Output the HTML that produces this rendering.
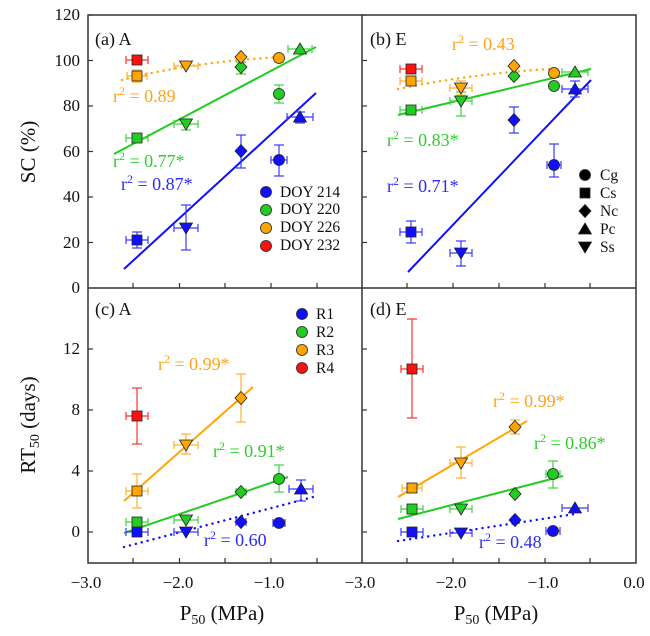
<!DOCTYPE html>
<html><head><meta charset="utf-8"><style>
html,body{margin:0;padding:0;background:#fff;}
svg, svg text{font-family:"Liberation Serif","DejaVu Serif",serif;}
</style></head><body>
<svg id="s" width="650" height="636" viewBox="0 0 650 636" xmlns="http://www.w3.org/2000/svg" font-family="Liberation Serif, DejaVu Serif, serif" style="display:block">
<rect width="650" height="636" fill="#fff"/>
<g id="g"></g>
<g fill="none" stroke="#333" stroke-width="1.5">
<rect x="88" y="15" width="548" height="548"/>
<line x1="362" y1="15" x2="362" y2="563"/>
<line x1="88" y1="288" x2="636" y2="288"/>
</g>
<g font-size="18" fill="#111">
<text x="95" y="45">(a) A</text>
<text x="370" y="45">(b) E</text>
<text x="95" y="315">(c) A</text>
<text x="370" y="315">(d) E</text>
</g>
<g font-size="17" fill="#111" text-anchor="end">
<text x="80" y="20">120</text><text x="80" y="66">100</text><text x="80" y="111">80</text>
<text x="80" y="157">60</text><text x="80" y="202">40</text><text x="80" y="248">20</text>
<text x="80" y="293">0</text>
<text x="80" y="354">12</text><text x="80" y="415">8</text><text x="80" y="476">4</text><text x="80" y="537">0</text>
</g>
<g font-size="17" fill="#111" text-anchor="middle">
<text x="86" y="588">−3.0</text><text x="178" y="588">−2.0</text><text x="269" y="588">−1.0</text>
<text x="360" y="588">−3.0</text><text x="451" y="588">−2.0</text><text x="543" y="588">−1.0</text><text x="634" y="588">0.0</text>
</g>
<g font-size="21" fill="#111" text-anchor="middle">
<text x="222" y="620">P<tspan font-size="14" dy="4">50</tspan><tspan dy="-4"> (MPa)</tspan></text>
<text x="496" y="620">P<tspan font-size="14" dy="4">50</tspan><tspan dy="-4"> (MPa)</tspan></text>
<text transform="translate(35,152) rotate(-90)">SC (%)</text>
<text transform="translate(35,425) rotate(-90)">RT<tspan font-size="14" dy="4">50</tspan><tspan dy="-4"> (days)</tspan></text>
</g>
<g font-size="18">
<text x="113" y="102" fill="#ffa31a">r<tspan font-size="12" dy="-7">2</tspan><tspan dy="7"> = 0.89</tspan></text>
<text x="113" y="167" fill="#2ecc2e">r<tspan font-size="12" dy="-7">2</tspan><tspan dy="7"> = 0.77*</tspan></text>
<text x="121" y="190" fill="#2a2aff">r<tspan font-size="12" dy="-7">2</tspan><tspan dy="7"> = 0.87*</tspan></text>
<text x="452" y="50" fill="#ffa31a">r<tspan font-size="12" dy="-7">2</tspan><tspan dy="7"> = 0.43</tspan></text>
<text x="387" y="146" fill="#2ecc2e">r<tspan font-size="12" dy="-7">2</tspan><tspan dy="7"> = 0.83*</tspan></text>
<text x="387" y="192" fill="#2a2aff">r<tspan font-size="12" dy="-7">2</tspan><tspan dy="7"> = 0.71*</tspan></text>
<text x="158" y="370" fill="#ffa31a">r<tspan font-size="12" dy="-7">2</tspan><tspan dy="7"> = 0.99*</tspan></text>
<text x="213" y="457" fill="#2ecc2e">r<tspan font-size="12" dy="-7">2</tspan><tspan dy="7"> = 0.91*</tspan></text>
<text x="204" y="546" fill="#2a2aff">r<tspan font-size="12" dy="-7">2</tspan><tspan dy="7"> = 0.60</tspan></text>
<text x="493" y="407" fill="#ffa31a">r<tspan font-size="12" dy="-7">2</tspan><tspan dy="7"> = 0.99*</tspan></text>
<text x="534" y="449" fill="#2ecc2e">r<tspan font-size="12" dy="-7">2</tspan><tspan dy="7"> = 0.86*</tspan></text>
<text x="479" y="548" fill="#2a2aff">r<tspan font-size="12" dy="-7">2</tspan><tspan dy="7"> = 0.48</tspan></text>
</g>
<g font-size="15.5" fill="#111">
<text x="280" y="197">DOY 214</text><text x="280" y="214">DOY 220</text>
<text x="280" y="232">DOY 226</text><text x="280" y="250">DOY 232</text>
<text x="600" y="180">Cg</text><text x="600" y="198">Cs</text><text x="600" y="216">Nc</text>
<text x="600" y="234">Pc</text><text x="600" y="252">Ss</text>
<text x="316" y="319">R1</text><text x="316" y="337">R2</text><text x="316" y="355">R3</text><text x="316" y="373">R4</text>
</g>
</svg>
<script>
var NS="http://www.w3.org/2000/svg",g=document.getElementById("g");
function el(t,a){var e=document.createElementNS(NS,t);for(var k in a)e.setAttribute(k,a[k]);g.appendChild(e);return e;}
var C={b:"#1010ff",g:"#22cc22",o:"#ffa500",r:"#ff1010"};
var CE={b:"#3a3aff",g:"#44d044",o:"#ffb030",r:"#ff3030"};
function mk(x,y,s,c,r){r=r||5.5;var f=C[c]||c,st={fill:f,stroke:"#222","stroke-width":0.8};
 if(s=="ci"){st.cx=x;st.cy=y;st.r=r;el("circle",st);}
 else if(s=="sq"){st.x=x-r+0.5;st.y=y-r+0.5;st.width=2*r-1;st.height=2*r-1;el("rect",st);}
 else if(s=="di"){st.points=[x,y-r-1,x+r+0.5,y,x,y+r+1,x-r-0.5,y].join(" ");el("polygon",st);}
 else if(s=="tr"){st.points=[x,y-r-0.5,x+r+1,y+r-0.5,x-r-1,y+r-0.5].join(" ");el("polygon",st);}
 else if(s=="dt"){st.points=[x,y+r+0.5,x+r+1,y-r+0.5,x-r-1,y-r+0.5].join(" ");el("polygon",st);}}
function eb(x,y,c,xe,ya,yb){var s={stroke:CE[c],"stroke-width":1.2};
 if(xe){el("line",Object.assign({x1:x-xe,y1:y,x2:x+xe,y2:y},s));el("line",Object.assign({x1:x-xe,y1:y-4,x2:x-xe,y2:y+4},s));el("line",Object.assign({x1:x+xe,y1:y-4,x2:x+xe,y2:y+4},s));}
 if(ya){el("line",Object.assign({x1:x,y1:ya,x2:x,y2:yb},s));el("line",Object.assign({x1:x-5,y1:ya,x2:x+5,y2:ya},s));el("line",Object.assign({x1:x-5,y1:yb,x2:x+5,y2:yb},s));}}
var DOT={"stroke-dasharray":"0.1 6","stroke-linecap":"round"};
function ln(x1,y1,x2,y2,c,dot){var a={x1:x1,y1:y1,x2:x2,y2:y2,stroke:C[c],"stroke-width":2};if(dot){a["stroke-dasharray"]=DOT["stroke-dasharray"];a["stroke-linecap"]="round";a["stroke-width"]=2.4;}el("line",a);}
var tk={stroke:"#333","stroke-width":1.2};
[133,179.5,225,271,317,407,453,499,545,590].forEach(function(x){el("line",Object.assign({x1:x,y1:288,x2:x,y2:283},tk));el("line",Object.assign({x1:x,y1:563,x2:x,y2:558},tk));});
[15,60.5,106,151.5,197,242.5].forEach(function(y){el("line",Object.assign({x1:88,y1:y,x2:93,y2:y},tk));el("line",Object.assign({x1:362,y1:y,x2:367,y2:y},tk));});
[349,410,471,532].forEach(function(y){el("line",Object.assign({x1:88,y1:y,x2:93,y2:y},tk));el("line",Object.assign({x1:362,y1:y,x2:367,y2:y},tk));});
ln(124,269,316,93,"b");ln(114,154,316,47,"g");
el("path",{d:"M122,80 Q190,62 282,57",fill:"none",stroke:C.o,"stroke-width":2.4,"stroke-dasharray":"0.1 6","stroke-linecap":"round"});
ln(408,272,591,80,"b");ln(398,115,591,69,"g");
el("path",{d:"M398,89 Q470,74 550,69",fill:"none",stroke:C.o,"stroke-width":2.4,"stroke-dasharray":"0.1 6","stroke-linecap":"round"});
ln(124,501,253,387,"o");ln(124,533,288,477,"g");ln(124,547,317,496,"b",1);
ln(398,497,527,421,"o");ln(398,519,563,476,"g");ln(398,541,575,514,"b",1);
var P=[
[137,240,"sq","b",11,232,248],[186,228,"dt","b",12,205,250],[241,151,"di","b",0,135,168],[279,160,"ci","b",8,145,176],[300,117,"tr","b",13,112,123],
[137,138,"sq","g",11,0],[186,124,"dt","g",12,119,130],[241,67,"di","g",0,62,74],[279,94,"ci","g",0,85,103],[300,49,"tr","g",12,0],
[137,76,"sq","o",10,70,82],[186,66,"dt","o",12,0],[241,57,"di","o",0,0],[279,58,"ci","o",0,0],
[137,60,"sq","r",11,0],
[411,232,"sq","b",11,221,243],[461,253,"dt","b",11,241,266],[514,120,"di","b",0,107,133],[554,165,"ci","b",7,144,177],[575,89,"tr","b",13,81,97],
[411,110,"sq","g",11,0],[461,101,"dt","g",11,92,116],[514,76,"di","g",3,0],[554,86,"ci","g",3,0],[575,72,"tr","g",13,0],
[411,81,"sq","o",11,0],[461,88,"dt","o",11,81,95],[514,66,"di","o",3,0],[554,73,"ci","o",3,0],
[411,69,"sq","r",11,0],
[137,532,"sq","b",11,0],[186,532,"dt","b",12,0],[241,522,"di","b",5,0],[279,523,"ci","b",6,0],[301,489,"tr","b",12,480,501],
[137,522,"sq","g",11,0],[186,520,"dt","g",12,0],[241,492,"di","g",5,0],[279,479,"ci","g",0,465,492],
[137,491,"sq","o",11,474,508],[186,445,"dt","o",12,434,454],[241,398,"di","o",0,374,422],
[137,416,"sq","r",11,388,444],
[412,532,"sq","b",11,0],[461,533,"dt","b",11,0],[515,520,"di","b",0,0],[553,531,"ci","b",7,0],[575,508,"tr","b",13,0],
[412,509,"sq","g",11,0],[461,509,"dt","g",11,0],[515,494,"di","g",0,0],[553,474,"ci","g",7,461,488],
[412,488,"sq","o",10,0],[461,463,"dt","o",11,447,478],[515,427,"di","o",0,420,434],
[412,369,"sq","r",11,319,418]];
P.forEach(function(p){eb(p[0],p[1],p[3],p[4],p[5],p[6]);});
P.forEach(function(p){mk(p[0],p[1],p[2],p[3]);});
mk(266,192,"ci","b");mk(266,210,"ci","g");mk(266,228,"ci","o");mk(266,246,"ci","r");
mk(585,175,"ci","#000");mk(585,193,"sq","#000");mk(585,211,"di","#000");mk(585,229,"tr","#000");mk(585,247,"dt","#000");
mk(302,314,"ci","b");mk(302,332,"ci","g");mk(302,350,"ci","o");mk(302,368,"ci","r");
</script>
</body></html>
